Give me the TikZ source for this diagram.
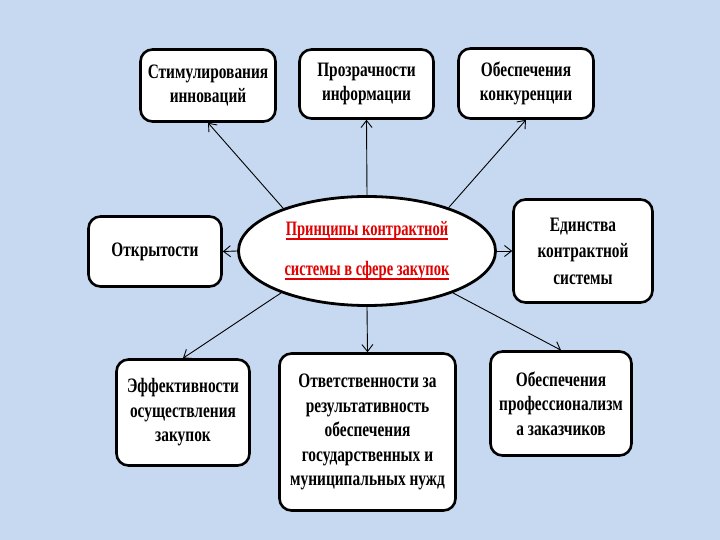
\documentclass[tikz,border=0pt]{standalone}
\usepackage{fontspec}
\newfontfamily\cf{Liberation Serif}[FakeStretch=0.75]
\newfontfamily\tf{Liberation Serif}[FakeStretch=0.71]
\usetikzlibrary{shapes.geometric,arrows.meta}
\definecolor{bgblue}{HTML}{C6D9F1}
\definecolor{titlered}{HTML}{E00000}
\newcommand\myul[1]{\setbox0\hbox{#1}\rlap{\rule[-4pt]{\wd0}{1.6pt}}\box0}
\tikzset{
  box/.style={draw, line width=2.6pt, rounded corners=12pt, fill=white, align=center,
    font=\cf\bfseries\fontsize{20.5}{24.5}\selectfont, inner sep=0pt},
  arr/.style={-{Straight Barb[length=7pt,width=11pt]}, line width=0.9pt},
}
\begin{document}
\begin{tikzpicture}[x=1pt,y=-1pt]
\fill[bgblue] (0,0) rectangle (720,540);
\useasboundingbox (0,0) rectangle (720,540);

\node[box, minimum width=135pt, minimum height=72pt] (b1) at (208,85.5) {Стимулирования\\инноваций};
\node[box, minimum width=134pt, minimum height=69pt] (b2) at (366.5,84) {Прозрачности\\информации};
\node[box, minimum width=135pt, minimum height=70pt] (b3) at (526,83.5) {Обеспечения\\конкуренции};
\node[box, minimum width=133pt, minimum height=70pt] (b4) at (155,251.5) {Открытости};
\node[box, minimum width=139pt, minimum height=103pt, font=\cf\bfseries\fontsize{20.5}{26.5}\selectfont] (b5) at (583,251) {Единства\\контрактной\\системы};
\node[box, minimum width=133pt, minimum height=106pt] (b6) at (183,412.5) {Эффективности\\осуществления\\закупок};
\node[box, minimum width=176pt, minimum height=157pt] (b7) at (367.5,432) {Ответственности за\\результативность\\обеспечения\\государственных и\\муниципальных нужд};
\node[box, minimum width=141pt, minimum height=104pt] (b8) at (561,403.5) {Обеспечения\\профессионализм\\а заказчиков};

\node[ellipse, draw, line width=2.8pt, fill=white, minimum width=257pt, minimum height=109pt,
  inner sep=0pt, align=center, text=titlered,
  font=\tf\bfseries\fontsize{20.5}{24}\selectfont] (c) at (367,251)
  {\myul{Принципы контрактной}\\[16pt]\myul{системы в сфере закупок}};

\draw[arr] (c.153) -- (b1.south);
\draw[arr] (c.north) -- (b2.south);
\draw[arr] (c.28) -- (b3.south);
\draw[arr] (c.west) -- (b4.east);
\draw[arr] (c.east) -- (b5.west);
\draw[arr] (c.206) -- (b6.north);
\draw[arr] (c.south) -- (b7.north);
\draw[arr] (c.334) -- (b8.north);
\end{tikzpicture}
\end{document}
